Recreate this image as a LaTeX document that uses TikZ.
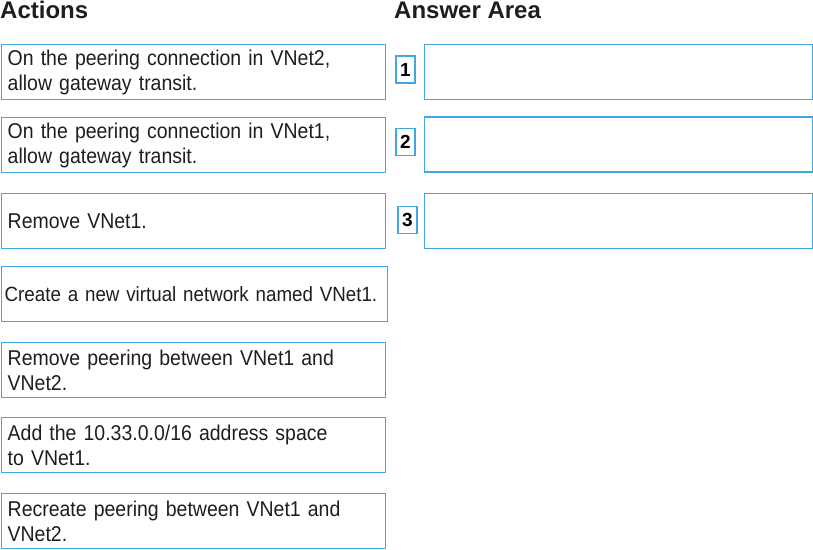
\documentclass[tikz,border=0pt]{standalone}
\usepackage{fontspec}
\setmainfont{Liberation Sans}[FakeStretch=0.91]
\newfontfamily\headfont{Liberation Sans}
\usepackage{tikz}
\usetikzlibrary{positioning}
\definecolor{boxblue}{RGB}{66,166,224}
\definecolor{inkgray}{RGB}{30,30,30}
\tikzstyle{action}=[draw=boxblue,line width=1.4pt,minimum height=55pt,text width=372pt,inner xsep=6pt,align=left,anchor=north west,text=inkgray,font=\fontsize{21.4}{25}\selectfont]
\tikzstyle{slot}=[draw=boxblue,line width=1.4pt,minimum width=388pt,minimum height=55pt,inner sep=0pt]
\tikzstyle{num}=[draw=boxblue,line width=1.2pt,minimum width=19pt,minimum height=27pt,inner sep=0pt,font=\headfont\fontsize{19}{22}\selectfont\bfseries]
\tikzstyle{title}=[anchor=base west,inner sep=0pt,font=\headfont\fontsize{24}{27}\selectfont\bfseries,text=inkgray]

\begin{document}
\begin{tikzpicture}[x=1pt,y=-1pt]
      \useasboundingbox (0,0) rectangle (813,549);
      \node[title] (actions) at (0,18) {Actions};
      \node[title] (answer) at (394,18) {Answer Area};
      % actions
      \node[action] (a1) at (1,44) {On the peering connection in VNet2,\\allow gateway transit.};
      \node[action] (a2) at (1,117) {On the peering connection in VNet1,\\allow gateway transit.};
      \node[action] (a3) at (1,193) {Remove VNet1.};
      \node[action,inner xsep=3pt,text width=380pt,font=\fontsize{20.6}{25}\selectfont] (a4) at (1,266) {Create a new virtual network named VNet1.};
      \node[action] (a5) at (1,342) {Remove peering between VNet1 and\\VNet2.};
      \node[action] (a6) at (1,417) {Add the 10.33.0.0/16 address space\\to VNet1.};
      \node[action] (a7) at (1,493) {Recreate peering between VNet1 and\\VNet2.};
      % answer area
      \node[num] (n1) at (405.5,69.5) {1};
      \node[num] (n2) at (405.5,142) {2};
      \node[num] (n3) at (407.5,220) {3};
      \node[slot] (s1) at (618.3,71.7) {};
      \node[slot] (s2) at (618.3,144.3) {};
      \node[slot] (s3) at (618.3,220.7) {};
    \end{tikzpicture}
\end{document}
